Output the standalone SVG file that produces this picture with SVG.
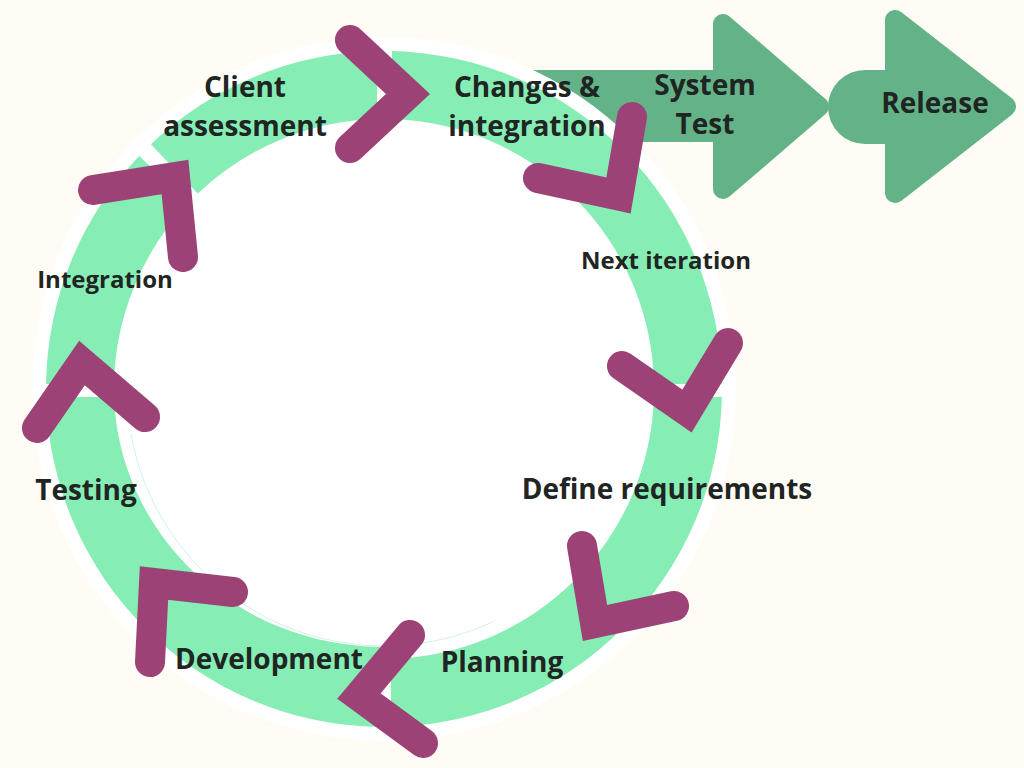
<svg xmlns="http://www.w3.org/2000/svg" width="1024" height="768" viewBox="0 0 1024 768">
  <defs>
    <style>
      .ring { fill: #86EDB5; }
      .dark { fill: #64B388; }
      .darkr { fill: #64B388; stroke: #64B388; stroke-width: 20; stroke-linejoin: round; }
      .chev { fill: none; stroke: #9C4276; stroke-width: 30; stroke-linejoin: miter; stroke-miterlimit: 10; stroke-linecap: round; }
      .lbl { font-family: "Open Sans", "Noto Sans", "Liberation Sans", sans-serif; font-weight: 700; fill: #1F2522; text-anchor: middle; }
      .big { font-size: 28px; }
      .small { font-size: 24px; }
    </style>
  </defs>
  <rect x="0" y="0" width="1024" height="768" fill="#FFFCF5"/>

  <g id="release-track">
    <rect class="dark" x="500" y="70" width="260" height="72"/>
    <g id="system-test">
      <polygon class="darkr" points="723,24 723,189 819,106.5"/>
      <text class="lbl big" x="705" y="95">System</text>
      <text class="lbl big" x="705" y="134">Test</text>
    </g>
    <g id="release">
      <path class="dark" d="M865,70 H900 V144 H865 A37,37 0 0 1 865,70 Z"/>
      <polygon class="darkr" points="895,20 895,193 1006,106.5"/>
      <text class="lbl big" x="935" y="113">Release</text>
    </g>
  </g>

  <circle cx="384" cy="389" r="352" fill="#FFFFFF"/>

  <g id="ring">
    <path id="seg-client" class="ring" d="M150.9,144.2 A338,338 0 0 1 377,51.07 L377,119.09 A270,270 0 0 0 197.8,193.5 Z"/>
    <path id="seg-changes" class="ring" d="M392,51.09 A338,338 0 0 1 721.96,384 L653.95,384 A270,270 0 0 0 392,119.12 Z"/>
    <path id="seg-define" class="ring" d="M721.9,397 A338,338 0 0 1 391,726.93 L391,658.9 A270,270 0 0 0 653.88,397 Z"/>
    <path id="seg-dev" class="ring" d="M380,726.98 A338,338 0 0 1 46.1,397 L114.13,397 A270,258 0 0 0 380,646.97 Z"/>
    <path id="seg-integration" class="ring" d="M46.04,384 A338,338 0 0 1 139.2,155.9 L188.5,202.8 A270,270 0 0 0 114.05,384 Z"/>
    <path d="M130.9,433.6 A257,257 0 0 0 492.6,621.9" fill="none" stroke="#A9EBCB" stroke-width="0.8" opacity="0.7"/>
  </g>

  <g id="connectors">
    <polyline class="chev" points="350,40 408,94 350,148"/>
    <polyline class="chev" points="632,117 618.5,195.5 538,178"/>
    <polyline class="chev" points="728,343 687,411 622,366"/>
    <polyline class="chev" points="582,546 595,623 674,606"/>
    <polyline class="chev" points="410,635 359,696 423,743"/>
    <polyline class="chev" points="233,592 154,583 150,662"/>
    <polyline class="chev" points="37,428 82,363 145,417"/>
    <polyline class="chev" points="93,190 175,177 183,257"/>
  </g>

  <g id="client-assessment">
    <text class="lbl big" x="245" y="97">Client</text>
    <text class="lbl big" x="245" y="136">assessment</text>
  </g>
  <g id="changes-integration">
    <text class="lbl big" x="527" y="97">Changes &amp;</text>
    <text class="lbl big" x="527" y="136">integration</text>
  </g>
  <g id="next-iteration">
    <text class="lbl small" x="666" y="269">Next iteration</text>
  </g>
  <g id="define-requirements">
    <text class="lbl big" x="667" y="499">Define requirements</text>
  </g>
  <g id="planning">
    <text class="lbl big" x="502" y="672">Planning</text>
  </g>
  <g id="development">
    <text class="lbl big" x="269" y="669">Development</text>
  </g>
  <g id="testing">
    <text class="lbl big" x="86" y="500">Testing</text>
  </g>
  <g id="integration">
    <text class="lbl small" x="105" y="288">Integration</text>
  </g>
</svg>
